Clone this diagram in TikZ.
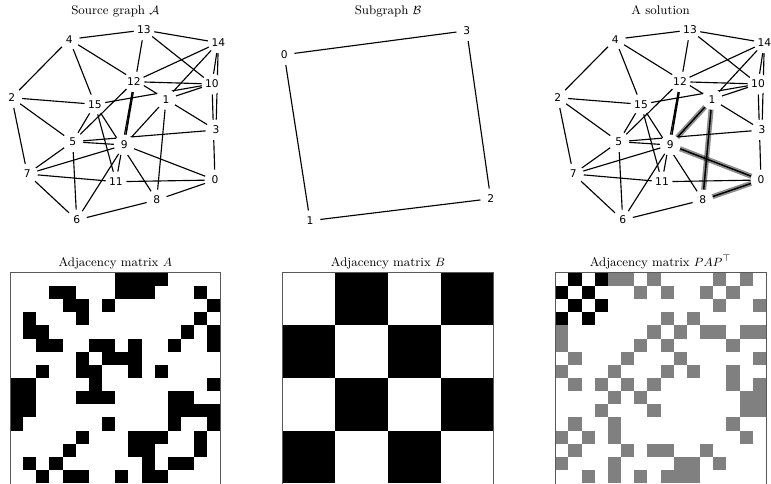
\documentclass[tikz,border=0pt]{standalone}
\usepackage{fontspec}
\newfontfamily\dejavu{DejaVu Sans}
\usetikzlibrary{backgrounds}
\begin{document}
\begin{tikzpicture}[x=0.75pt,y=-0.75pt,
  vtx/.style={circle,fill=white,inner sep=0pt,minimum size=15.75pt,font=\dejavu\fontsize{8}{9}\selectfont},
  edgeline/.style={line width=0.85pt,draw=black},
  hlband/.style={line width=3.8pt,draw=black,opacity=0.45},
  ttl/.style={anchor=base,inner sep=0pt,font=\fontsize{9.4}{11}\selectfont},
  mframe/.style={draw=black!65,line width=0.6pt},
  blackcell/.style={fill=black},
  graycell/.style={fill=black!50}]
\useasboundingbox (0,0) rectangle (771,483);
\def\cs{13.1625}
\def\bs{52.65}
\def\off{546}
% titles
\node[ttl] (t1) at (115.3,14) {Source graph $\mathcal{A}$};
\node[ttl] (t2) at (388,14) {Subgraph $\mathcal{B}$};
\node[ttl] (t3) at (660.6,14) {A solution};
\node[ttl] (t4) at (115.3,266.7) {Adjacency matrix $A$};
\node[ttl] (t5) at (388,266.7) {Adjacency matrix $B$};
\node[ttl] (t6) at (660.6,266.7) {Adjacency matrix $PAP^{\top}$};
% graph nodes
\foreach \n/\x/\y in {0/215/180,1/166/99.3,2/11.7/97.7,3/216/130,4/69.3/39.3,5/72.7/141.7,
  6/76.7/220,7/27.3/174,8/156.7/200,9/124.3/145,10/212/84,11/116/181.7,12/134/81.7,
  13/144/30,14/218.3/42.7,15/95/104.3}{
  \node[vtx] (a\n) at (\x,\y) {\n};
  \node[vtx] (s\n) at (\x+\off,\y) {\n};
}
\node[vtx] (b0) at (284.2,54.7) {0};
\node[vtx] (b1) at (310,220.7) {1};
\node[vtx] (b2) at (490.7,198.7) {2};
\node[vtx] (b3) at (466.7,30.7) {3};
\begin{scope}[on background layer]
\foreach \u/\v in {0/8,0/9,0/10,0/11,1/3,1/4,1/8,1/9,1/10,1/14,2/4,2/5,2/7,2/15,3/5,3/14,
  4/13,4/15,5/6,5/7,5/9,5/12,5/15,6/7,6/8,6/9,7/9,7/11,8/15,9/12,9/13,10/12,10/13,
  10/14,10/15,11/12,11/15,12/14,13/14}{
  \draw[edgeline] (a\u.center) -- (a\v.center);
  \draw[edgeline] (s\u.center) -- (s\v.center);
}
\foreach \u/\v in {9/1,1/8,8/0,0/9}{
  \draw[hlband] (s\u.center) -- (s\v.center);
  \draw[edgeline] (s\u.center) -- (s\v.center);
}
\draw[edgeline] (b0.center) -- (b3.center) -- (b2.center) -- (b1.center) -- (b0.center);
\end{scope}
% matrix A
\foreach \r/\cl in {0/{8,9,10,11},1/{3,4,8,9,10,14},2/{4,5,7,15},3/{1,5,14},4/{1,2,13,15},
  5/{2,3,6,7,9,12,15},6/{5,7,8,9},7/{2,5,6,9,11},8/{0,1,6,15},9/{0,1,5,6,7,12,13},
  10/{0,1,12,13,14,15},11/{0,7,12,15},12/{5,9,10,11,14},13/{4,9,10,14},14/{1,3,10,12,13},
  15/{2,4,5,8,10,11}}{
  \foreach \c in \cl {
    \fill[blackcell] ({10+\c*\cs},{272.7+\r*\cs}) rectangle ++(\cs,\cs);
  }
}
\draw[mframe] (10,490) -- (10,272.7) -- (220.6,272.7) -- (220.6,490);
% matrix B
\foreach \r/\c in {0/1,0/3,1/0,1/2,2/1,2/3,3/0,3/2}{
  \fill[blackcell] ({282.7+\c*\bs},{272.7+\r*\bs}) rectangle ++(\bs,\bs);
}
\draw[mframe] (282.7,490) -- (282.7,272.7) -- (493.3,272.7) -- (493.3,490);
% matrix PAP^T
\foreach \r/\c in {0/1,0/3,1/0,1/2,2/1,2/3,3/0,3/2}{
  \fill[blackcell] ({555.3+\c*\cs},{272.7+\r*\cs}) rectangle ++(\cs,\cs);
}
\foreach \r/\cl in {0/{4,5,7,12,14},1/{6,8,11,13},2/{12,15},3/{8,10},4/{0,7,9,11,12,14,15},
  5/{0,6,8,13},6/{1,5,9,15},7/{0,4,8,10,13},8/{1,3,5,7,13,15},9/{4,6,14,15},
  10/{3,7,14,15},11/{1,4,13},12/{0,2,4,14},13/{1,5,7,8,11},14/{0,4,9,10,12},
  15/{2,4,6,8,9,10}}{
  \foreach \c in \cl {
    \fill[graycell] ({555.3+\c*\cs},{272.7+\r*\cs}) rectangle ++(\cs,\cs);
  }
}
\draw[mframe] (555.3,490) -- (555.3,272.7) -- (765.9,272.7) -- (765.9,490);
\end{tikzpicture}
\end{document}
